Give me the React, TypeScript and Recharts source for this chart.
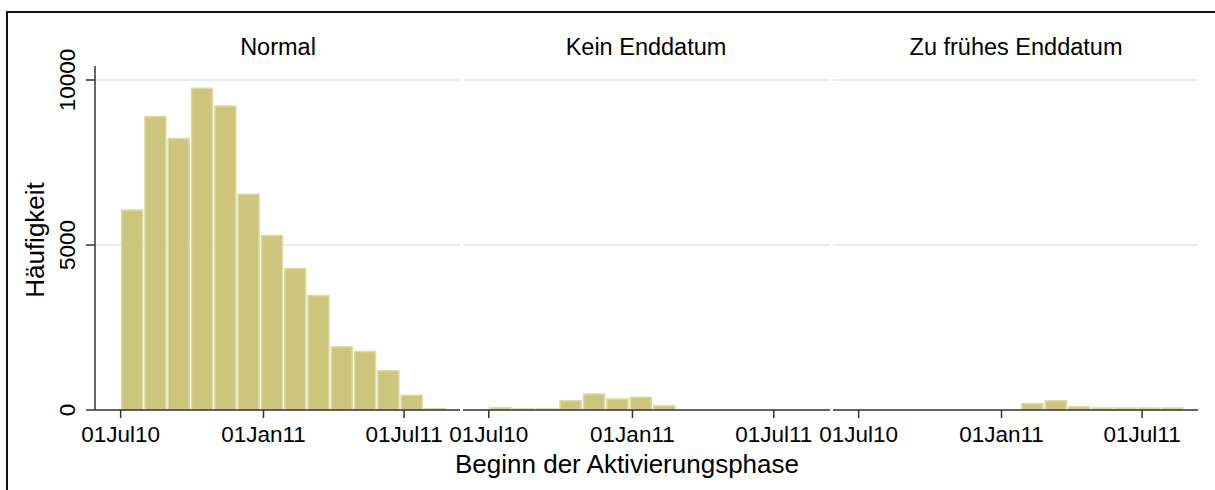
import React from "react";
import { BarChart, Bar, XAxis, YAxis, CartesianGrid } from "recharts";

// days since 01Jul10
const tickDays = [0, 184, 365];
const tickLabels = ["01Jul10", "01Jan11", "01Jul11"];
const yTicks = [0, 5000, 10000];
const binWidth = 30;

const panelTitles = ["Normal", "Kein Enddatum", "Zu frühes Enddatum"];

const normalBins = [0, 30, 60, 90, 120, 150, 180, 210, 240, 270, 300, 330, 360, 390];
const normalCounts = [6060, 8890, 8230, 9750, 9210, 6540, 5290, 4290, 3470, 1920, 1770, 1190, 450, 40];

const keinBins = [0, 30, 60, 90, 120, 150, 180, 210];
const keinCounts = [70, 30, 30, 280, 485, 335, 385, 130];

const fruehBins = [209, 239, 269, 299, 329, 359, 389];
const fruehCounts = [200, 280, 100, 60, 60, 60, 60];

const X_DOMAIN: [number, number] = [-33, 437];
const Y_DOMAIN: [number, number] = [0, 10424];
const FONT = "'Liberation Sans', Arial, sans-serif";
const FILL = "#cdc57d";
const EDGE = "#dedaa4";
const AXIS = "#333";

const toRows = (bins: number[], counts: number[]) =>
  bins.map((b, i) => ({ x: b + binWidth / 2, count: counts[i] }));

const XTick = ({ x, y, payload }: any) => (
  <text x={x} y={y} textAnchor="middle" fontSize={22.5} fontFamily={FONT} fill="#000">
    {tickLabels[tickDays.indexOf(payload.value)]}
  </text>
);

const YTick = ({ x, y, payload }: any) => (
  <text
    x={x - 11}
    y={y}
    transform={`rotate(-90, ${x - 11}, ${y})`}
    textAnchor="middle"
    fontSize={22.5}
    fontFamily={FONT}
    fill="#000"
  >
    {payload.value}
  </text>
);

function Panel({ rows, left, width, marginLeft, showY }: any) {
  const plotW = width - marginLeft - (showY ? 95 : 0);
  const barSize = (plotW * binWidth) / (X_DOMAIN[1] - X_DOMAIN[0]);
  return (
    <div style={{ position: "absolute", left, top: 0 }}>
      <BarChart
        width={width}
        height={490}
        data={rows}
        margin={{ top: 66, right: 0, bottom: 30, left: marginLeft }}
        barGap={0}
        barCategoryGap={0}
      >
        <CartesianGrid vertical={false} syncWithTicks stroke="#e9edf3" strokeWidth={2} />
        <XAxis
          dataKey="x"
          type="number"
          domain={X_DOMAIN}
          ticks={tickDays}
          interval={0}
          allowDataOverflow
          height={50}
          tickSize={8}
          tickMargin={24}
          stroke={AXIS}
          strokeWidth={1.5}
          tick={<XTick />}
        />
        <YAxis
          hide={!showY}
          width={95}
          domain={Y_DOMAIN}
          ticks={yTicks}
          allowDataOverflow
          tickSize={9}
          tickMargin={0}
          stroke={AXIS}
          strokeWidth={1.5}
          tick={<YTick />}
        />
        <Bar
          dataKey="count"
          fill={FILL}
          stroke={EDGE}
          strokeWidth={1.5}
          barSize={barSize}
          isAnimationActive={false}
        />
      </BarChart>
    </div>
  );
}

export default function App() {
  return (
    <div
      style={{
        position: "absolute",
        left: 0,
        top: 0,
        width: 1215,
        height: 490,
        overflow: "hidden",
        background: "#fff",
      }}
    >
      <div
        style={{
          position: "absolute",
          left: 6,
          top: 11,
          width: 1400,
          height: 700,
          borderTop: "2.5px solid #111",
          borderLeft: "2.5px solid #111",
        }}
      />
      <Panel rows={toRows(normalBins, normalCounts)} left={0} width={460} marginLeft={0} showY />
      <Panel rows={toRows(keinBins, keinCounts)} left={440} width={390} marginLeft={23} />
      <Panel rows={toRows(fruehBins, fruehCounts)} left={813} width={385} marginLeft={20} />
      <svg
        width={1215}
        height={490}
        style={{ position: "absolute", left: 0, top: 0, pointerEvents: "none" }}
        fontFamily={FONT}
      >
        <text x={278} y={55} textAnchor="middle" fontSize={23.5} fill="#000">{panelTitles[0]}</text>
        <text x={646} y={55} textAnchor="middle" fontSize={23.5} fill="#000">{panelTitles[1]}</text>
        <text x={1016} y={55} textAnchor="middle" fontSize={23.5} fill="#000">{panelTitles[2]}</text>
        <text x={627} y={473} textAnchor="middle" fontSize={26} fill="#000">Beginn der Aktivierungsphase</text>
        <text x={44} y={240} textAnchor="middle" fontSize={26} fill="#000" transform="rotate(-90, 44, 240)">
          Häufigkeit
        </text>
      </svg>
    </div>
  );
}
